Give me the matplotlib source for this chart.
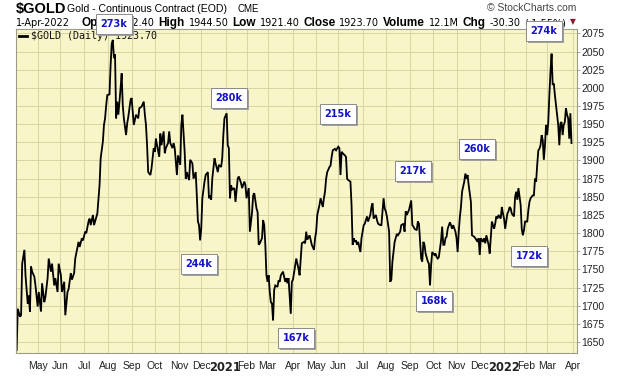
import numpy as np
import pandas as pd
from matplotlib import pyplot as plt
from matplotlib.patches import Rectangle

# sessions counted from 3-Apr-2020, daily close of continuous gold futures
session = [0, 1, 3, 4, 5, 7, 8, 10, 11, 12, 13, 14, 16, 17, 19, 20, 22, 23, 25, 26,
           28, 29, 31, 32, 34, 35, 37, 38, 40, 41, 43, 44, 46, 47, 49, 50, 52, 53, 56, 57,
           59, 60, 62, 63, 65, 66, 67, 69, 70, 72, 73, 75, 76, 78, 79, 80, 81, 82, 84, 85,
           86, 87, 88, 89, 90, 91, 92, 94, 95, 96, 97, 99, 100, 101, 103, 104,
           106, 108, 110, 111, 113, 115, 116, 117, 118, 119, 121, 122, 124, 125, 126, 127,
           129, 130, 131, 133, 134, 135, 137, 138, 139, 141, 142, 143, 145, 146, 148, 149,
           150, 152, 153, 154, 156, 157, 159, 160, 162, 163, 164, 165, 166, 167, 168, 170,
           171, 173, 174, 175, 176, 177, 179, 180, 182, 183, 185, 186, 187, 188, 190, 191,
           192, 193, 194, 195, 197, 198, 200, 201, 203, 204, 206, 207,
           208, 210, 211, 213, 214, 215, 217, 218, 219, 220, 222, 223, 224, 225, 226, 227,
           228, 229, 230, 231, 232, 233, 234, 236, 237, 238, 239, 241, 242, 243, 244, 245,
           246, 248, 249, 250, 252, 253, 255, 256, 257, 258, 260, 261, 262, 263, 265, 266,
           267, 269, 270, 271, 272, 274, 275, 277, 278, 279, 280, 281, 283, 284, 285, 286,
           288, 289, 291, 292, 293, 294, 295, 297, 298, 299, 300, 302, 303, 304, 305, 306,
           307, 308, 309, 311,
           312, 314, 315, 317, 318, 320, 321, 322, 323, 325, 326, 327, 329, 330, 332, 333,
           334, 335, 337, 338, 339, 340, 341, 342, 344, 345, 347, 348, 350, 351, 352, 353,
           355, 357, 358, 359, 360, 362, 363, 364, 366, 367, 368, 369, 370, 372, 373, 374,
           375, 376, 378, 379, 380, 381, 382, 384, 385, 386, 387, 388, 389, 390, 392, 393,
           394, 395, 397, 398, 399, 400, 401, 402, 403, 405, 406, 407, 408, 409, 411,
           412, 414, 415, 417, 418, 419, 420, 422, 423, 424, 425, 427, 428, 429, 430, 432,
           433, 434, 435, 436, 438, 439, 440, 441, 442, 444, 445, 446, 447, 448, 450, 451,
           452, 453, 454, 456, 457, 458, 459, 460, 462, 463, 464, 465, 467, 468, 469, 470,
           471, 472, 473, 474, 475, 476, 477, 478, 479, 480, 481, 482, 483, 484, 485, 486,
           487, 488, 489, 490, 491, 492, 493, 494, 495, 496, 497, 498, 499, 500, 501, 502]
close = [1639, 1696, 1685, 1687, 1758, 1777, 1742, 1703, 1714, 1692, 1754, 1747, 1740, 1728, 1699, 1719, 1692, 1731, 1705, 1712,
         1738, 1765, 1747, 1758, 1728, 1738, 1719, 1758, 1742, 1719, 1733, 1687, 1719, 1723, 1745, 1736, 1745, 1765, 1788, 1781,
         1793, 1790, 1802, 1800, 1816, 1820, 1811, 1825, 1811, 1822, 1827, 1866, 1903, 1926, 1949, 1958, 1976, 1990, 1991, 2031,
         2061, 2066, 2041, 2046, 1958, 1981, 1963, 1999, 2020, 1976, 1958, 1935, 1951, 1960, 1983, 1986,
         1949, 1963, 1958, 1972, 1974, 1981, 1963, 1949, 1921, 1884, 1880, 1889, 1917, 1912, 1930, 1921,
         1905, 1937, 1921, 1940, 1910, 1917, 1924, 1940, 1924, 1917, 1924, 1917, 1880, 1907, 1894, 1949,
         1963, 1912, 1875, 1884, 1873, 1901, 1896, 1875, 1884, 1852, 1816, 1811, 1790, 1806, 1848, 1871,
         1880, 1884, 1848, 1852, 1846, 1875, 1903, 1896, 1884, 1894, 1891, 1903, 1935, 1958, 1965, 1921,
         1917, 1848, 1866, 1860, 1862, 1843, 1875, 1878, 1869, 1862, 1871, 1866,
         1848, 1862, 1802, 1829, 1852, 1855, 1834, 1829, 1784, 1786, 1793, 1818, 1811, 1784, 1742, 1733,
         1742, 1719, 1705, 1703, 1680, 1722, 1728, 1726, 1735, 1733, 1742, 1747, 1740, 1733, 1738, 1731,
         1738, 1689, 1733, 1736, 1756, 1765, 1751, 1742, 1765, 1786, 1788, 1786, 1802, 1791, 1797, 1791,
         1784, 1777, 1793, 1802, 1825, 1839, 1848, 1836, 1848, 1857, 1875, 1884, 1891, 1893, 1905, 1914,
         1916, 1914, 1919, 1917, 1880, 1912, 1910, 1907, 1905, 1875, 1873, 1871, 1839, 1784, 1793, 1788,
         1790, 1784, 1788, 1774,
         1793, 1811, 1813, 1823, 1816, 1825, 1836, 1841, 1820, 1825, 1818, 1813, 1811, 1811, 1848, 1834,
         1830, 1823, 1802, 1733, 1736, 1761, 1774, 1788, 1799, 1797, 1802, 1811, 1813, 1802, 1830, 1825,
         1832, 1845, 1811, 1809, 1806, 1804, 1816, 1813, 1765, 1761, 1788, 1784, 1772, 1761, 1758, 1728,
         1756, 1774, 1770, 1772, 1767, 1765, 1767, 1790, 1809, 1784, 1784, 1793, 1795, 1806, 1815, 1811,
         1806, 1811, 1802, 1793, 1774, 1802, 1822, 1836, 1857, 1871, 1882, 1875, 1880, 1866, 1843,
         1797, 1795, 1793, 1788, 1793, 1770, 1793, 1788, 1793, 1786, 1797, 1784, 1772, 1793, 1816, 1806,
         1813, 1823, 1820, 1825, 1820, 1836, 1827, 1820, 1806, 1827, 1830, 1836, 1834, 1827, 1823, 1850,
         1857, 1846, 1862, 1839, 1806, 1797, 1804, 1816, 1816, 1832, 1843, 1848, 1852, 1852, 1875, 1871,
         1894, 1914, 1916, 1921, 1935, 1928, 1901, 1921, 1949, 1935, 1953, 1990, 2022, 2047, 2004, 2006,
         1990, 1976, 1963, 1949, 1921, 1951, 1953, 1935, 1949, 1953, 1972, 1963, 1958, 1930, 1965, 1924]

first_day = '2020-04-03'
nyse_holidays = ['2020-04-10', '2020-05-25', '2020-07-03', '2020-09-07', '2020-11-26',
                 '2020-12-25', '2021-01-01', '2021-01-18', '2021-02-15', '2021-04-02',
                 '2021-05-31', '2021-07-05', '2021-09-06', '2021-11-25', '2021-12-24',
                 '2022-01-17', '2022-02-21', '2022-04-15']
price_ticks = list(range(1650, 2076, 25))

quote_pieces = [('Open', True), ('1942.40', False), ('High', True), ('1944.50', False),
                ('Low', True), ('1921.40', False), ('Close', True), ('1923.70', False),
                ('Volume', True), ('12.1M', False), ('Chg', True), ('-30.30', False),
                ('(-1.55%)', False)]

vol_labels = ['273k', '274k', '280k', '244k', '215k', '167k', '217k', '168k', '260k', '172k']
# label box centres, in pixels from the top left corner of the image
vol_pos = [(114, 24), (544, 31), (229, 98), (199, 264), (338, 114),
           (296, 338), (413, 171), (434, 301), (477, 149), (529, 256)]

W, H = 620, 376
BG = '#F8F6C8'
GRID = '#D8D5A4'
SANS = 'Liberation Sans'


def fx(x):
    return x / W


def fy(y):
    return 1 - y / H


def month_ticks(last):
    cal = pd.bdate_range(first_day, '2022-04-30', freq='C', holidays=nyse_holidays)
    idx = pd.Series(np.arange(len(cal)), index=cal)
    firsts = idx.groupby([cal.year, cal.month]).first()
    pos, lab = [], []
    for (yr, mo), i in firsts.items():
        if i == 0 or i > last:
            continue
        pos.append(i)
        lab.append(str(yr) if mo == 1 else pd.Timestamp(yr, mo, 1).strftime('%b'))
    return pos, lab


def flow(fig, pieces, x0, x1, y):
    # spread the header pieces evenly between two pixel columns
    r = fig.canvas.get_renderer()
    texts = []
    for txt, bold in pieces:
        t = fig.text(0, fy(y), txt, va='center', ha='left',
                     family=SANS if bold else 'DejaVu Sans',
                     fontsize=8.5 if bold else 7,
                     fontweight='bold' if bold else 'normal')
        texts.append(t)
    widths = [t.get_window_extent(r).width for t in texts]
    gap = (x1 - x0 - sum(widths)) / (len(texts) - 1)
    x = x0
    for t, w in zip(texts, widths):
        t.set_x(fx(x))
        x += w + gap


def main():
    fig = plt.figure(figsize=(W / 100, H / 100), dpi=100)
    fig.patch.set_facecolor('white')
    ax = fig.add_axes([fx(16), fy(353), fx(577 - 16), (353 - 29) / H])
    ax.set_facecolor(BG)

    ax.plot(session, close, color='black', lw=1.3, solid_joinstyle='miter')
    ax.set_xlim(-0.6, 507)
    ax.set_ylim(1635, 2081)

    xt, xl = month_ticks(504)
    ax.set_xticks(xt)
    ax.set_xticklabels(xl)
    for t in ax.get_xticklabels():
        if t.get_text().isdigit():
            t.set_fontweight('bold')
            t.set_fontsize(8.3)
            t.set_family('DejaVu Sans')
        else:
            t.set_fontsize(7.5)
            t.set_family(SANS)
    ax.tick_params(axis='x', length=0, pad=6, colors='#222222')

    ax.yaxis.tick_right()
    ax.set_yticks(price_ticks)
    ax.tick_params(axis='y', length=2, width=0.6, pad=1, colors='#222222',
                   labelsize=7.5, color='#999999')
    for t in ax.get_yticklabels():
        t.set_family(SANS)

    ax.grid(True, color=GRID, lw=0.7)
    ax.set_axisbelow(True)
    for s in ax.spines.values():
        s.set_color('#9c9c8c')
        s.set_linewidth(0.8)

    # legend
    fig.add_artist(plt.Line2D([fx(19), fx(27)], [fy(36), fy(36)], color='black', lw=2))
    fig.text(fx(31), fy(36), '$GOLD (Daily) 1923.70', family='DejaVu Sans Mono',
             fontsize=7.2, va='center', ha='left', color='#111111')

    # header
    fig.text(fx(16), fy(9), '$GOLD', fontsize=10.5, fontweight='bold', family=SANS,
             va='center', ha='left')
    fig.text(fx(67), fy(9), 'Gold - Continuous Contract (EOD)', fontsize=7.6, family=SANS,
             va='center', ha='left')
    fig.text(fx(237), fy(9.5), 'CME', fontsize=7, family=SANS, va='center', ha='left')
    fig.text(fx(576), fy(8), '\u00a9 StockCharts.com', fontsize=7.5, family=SANS,
             color='#444444', va='center', ha='right')
    fig.text(fx(16), fy(23), '1-Apr-2022', fontsize=7, family='DejaVu Sans',
             va='center', ha='left')
    flow(fig, quote_pieces, 81, 566, 23)
    fig.text(fx(573), fy(22), '\u25bc', fontsize=5.5, color='#8b1a2a',
             va='center', ha='center', family='DejaVu Sans')

    # volume boxes with drop shadow
    fig.canvas.draw()
    r = fig.canvas.get_renderer()
    inv = fig.transFigure.inverted()
    for lab, (x, y) in zip(vol_labels, vol_pos):
        t = fig.text(fx(x), fy(y), lab, fontsize=7, fontweight='bold',
                     family='DejaVu Sans', color='#1414c8', ha='center', va='center',
                     zorder=5,
                     bbox=dict(boxstyle='square,pad=0.5', fc='white', ec='#8a8a8a', lw=0.7))
        t.draw(r)
        bb = t.get_bbox_patch().get_window_extent(r)
        (x0, y0), (x1, y1) = inv.transform([(bb.x0 + 2, bb.y0 - 2), (bb.x1 + 2, bb.y1 - 2)])
        fig.add_artist(Rectangle((x0, y0), x1 - x0, y1 - y0, transform=fig.transFigure,
                                 fc='#a0a0a0', ec='none', zorder=4))

    fig.savefig('out.png', dpi=100)


if __name__ == "__main__":
    main()
